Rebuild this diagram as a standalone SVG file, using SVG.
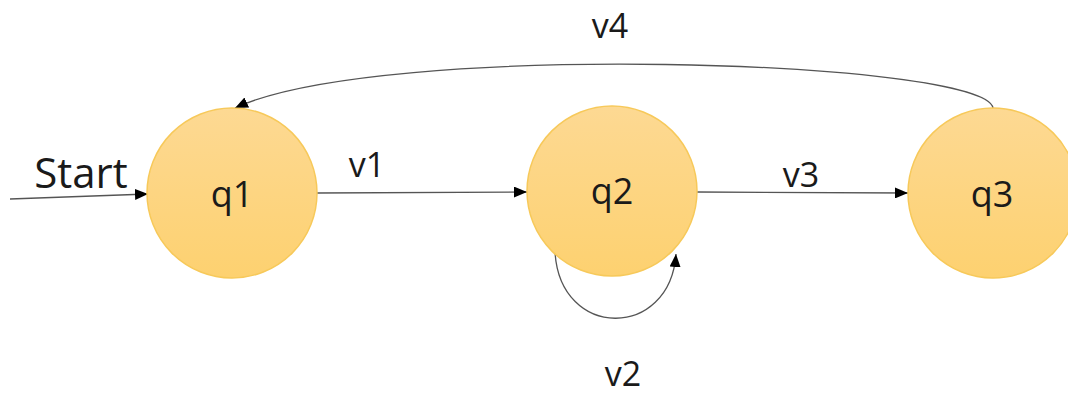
<svg xmlns="http://www.w3.org/2000/svg" width="1068" height="397" viewBox="0 0 1068 397">
<style>
.node{stroke:#F7C95A;stroke-width:1.5;fill:url(#g)}
.lbl{font-family:"Open Sans","Liberation Sans",sans-serif;fill:#1a1a1a;text-anchor:middle}
.nl{font-size:36px}
.el{font-size:34px}
.edge{fill:none;stroke:#555;stroke-width:1.3}
</style>
<defs>
<linearGradient id="g" x1="0" y1="0" x2="0" y2="1">
<stop offset="0" stop-color="#FDD993"/>
<stop offset="1" stop-color="#FDD170"/>
</linearGradient>
<marker id="a" viewBox="0 0 13 11" refX="13" refY="5.5" markerWidth="13" markerHeight="11" markerUnits="userSpaceOnUse" orient="auto">
<path d="M0,0 L13,5.5 L0,11 Z" fill="#000"/>
</marker>
</defs>
<g id="connectors">
<path class="edge" d="M10,199 L148,194" marker-end="url(#a)"/>
<path class="edge" d="M317,193 L527,192" marker-end="url(#a)"/>
<path class="edge" d="M697,192 L908,193" marker-end="url(#a)"/>
<path class="edge" d="M555,252 C560,340 670,340 676,254" marker-end="url(#a)"/>
<path class="edge" d="M993,108 C985,60 380,40 235,108" marker-end="url(#a)"/>
<text class="lbl" x="81" y="188" font-size="42">Start</text>
<text class="lbl el" x="367" y="177">v1</text>
<text class="lbl el" x="623" y="386">v2</text>
<text class="lbl el" x="801" y="187">v3</text>
<text class="lbl el" x="610" y="38">v4</text>
</g>
<g id="q1">
<circle class="node" cx="232" cy="193" r="85"/>
<text class="lbl nl" x="232" y="207">q1</text>
</g>
<g id="q2">
<circle class="node" cx="612" cy="191" r="85"/>
<text class="lbl nl" x="612" y="204">q2</text>
</g>
<g id="q3">
<circle class="node" cx="993" cy="193" r="85"/>
<text class="lbl nl" x="992" y="207">q3</text>
</g>
</svg>
